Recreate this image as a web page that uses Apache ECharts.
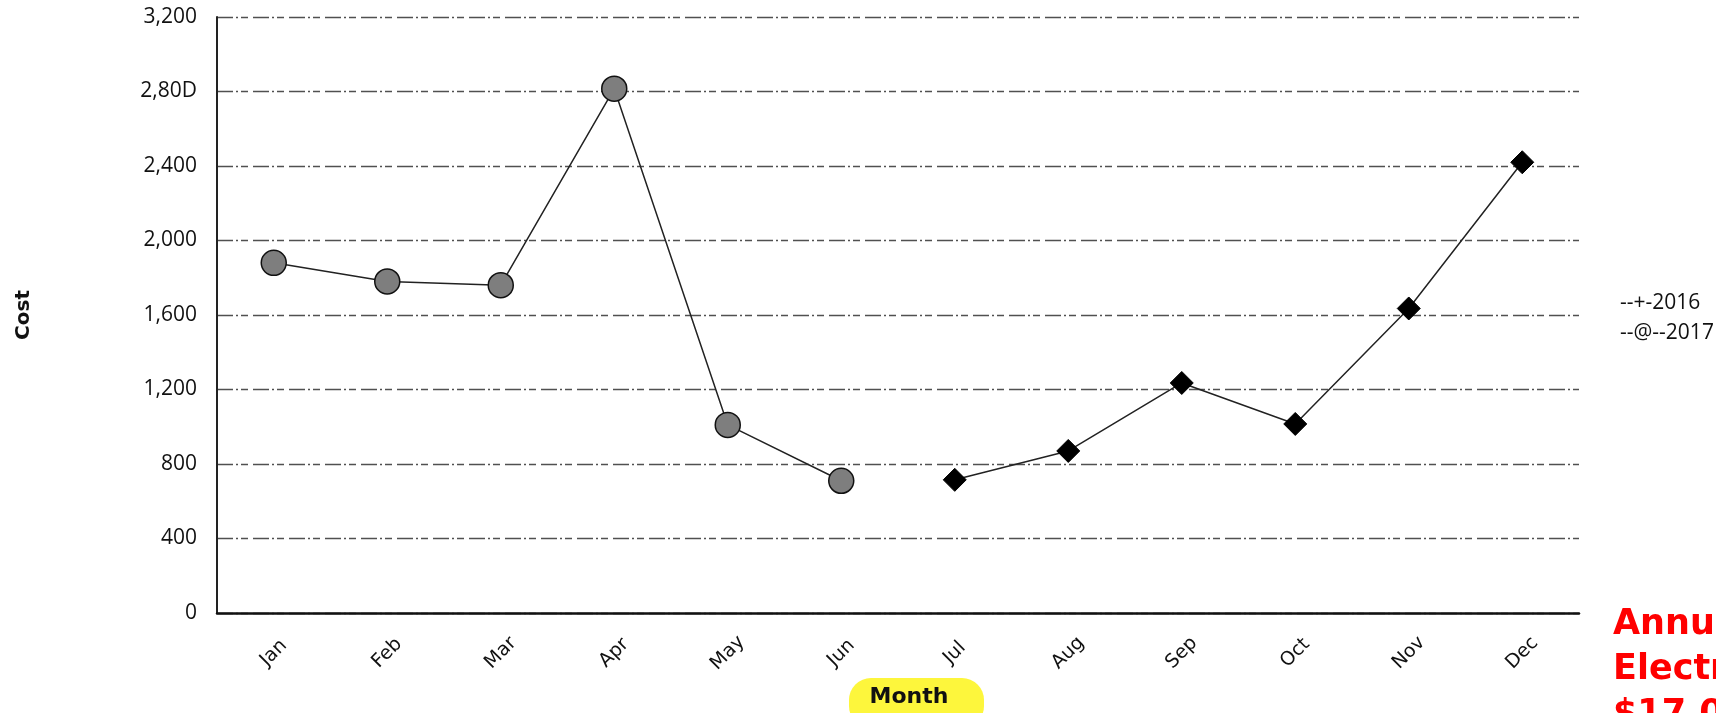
<!DOCTYPE html>
<html>
<head>
<meta charset="utf-8">
<script src="https://cdn.jsdelivr.net/npm/echarts@6/dist/echarts.min.js"></script>
<style>
  html, body { margin: 0; padding: 0; background: #fff; }
  #myChart { width: 1716px; height: 713px; }
</style>
</head>
<body>
<div id="myChart"></div>
<script>
// 月份
var months = ["Jan", "Feb", "Mar", "Apr", "May", "Jun", "Jul", "Aug", "Sep", "Oct", "Nov", "Dec"];
// 2016 only has Jul - Dec, 2017 only Jan - Jun
var cost2016 = [null, null, null, null, null, null, 715, 870, 1235, 1015, 1635, 2420];
var cost2017 = [1880, 1780, 1760, 2815, 1010, 710, null, null, null, null, null, null];
var seriesNames = ["2016", "2017"];
var legendLabels = ["--+-2016", "--@--2017"];
// y tick labels, as printed (scan shows "2,80D")
var yTickLabels = ["0", "400", "800", "1,200", "1,600", "2,000", "2,400", "2,80D", "3,200"];
var noteLines = ["Annual", "Electricity", "$17,0"];

var myChart = echarts.init(document.getElementById("myChart"));

var gridDash = {
  color: "#505050",
  width: 1.3,
  type: [16, 3, 2, 3, 7, 5]
};

myChart.setOption({
  animation: false,
  backgroundColor: "#ffffff",
  grid: {
    left: 217,
    right: 137,
    top: 17,
    bottom: 100
  },
  legend: {
    data: seriesNames,
    orient: "vertical",
    left: 1610,
    top: 286,
    icon: "none",
    itemWidth: 0,
    itemGap: 6,
    formatter: function (name) {
      return legendLabels[seriesNames.indexOf(name)];
    },
    textStyle: {
      fontFamily: "Open Sans",
      fontSize: 21,
      lineHeight: 24,
      color: "#111"
    }
  },
  xAxis: {
    type: "category",
    data: months,
    boundaryGap: true,
    axisTick: { show: false },
    axisLine: { lineStyle: { color: "#111", width: 2.5 } },
    axisLabel: {
      rotate: 45,
      margin: 40,
      align: "center",
      verticalAlign: "middle",
      color: "#111",
      fontFamily: "DejaVu Sans",
      fontSize: 19
    }
  },
  yAxis: {
    type: "value",
    min: 0,
    max: 3200,
    interval: 400,
    name: "Cost",
    nameLocation: "middle",
    nameGap: 183,
    nameRotate: 90,
    nameTextStyle: {
      fontFamily: "DejaVu Sans",
      fontWeight: "bold",
      fontSize: 20,
      color: "#111"
    },
    axisLine: { show: true, lineStyle: { color: "#222", width: 2 } },
    axisTick: { show: false },
    axisLabel: {
      margin: 20,
      color: "#111",
      fontFamily: "Open Sans",
      fontSize: 21,
      formatter: function (v) {
        return yTickLabels[Math.round(v / 400)];
      }
    },
    splitLine: { show: true, lineStyle: gridDash }
  },
  series: [
    {
      name: "2016",
      type: "line",
      data: cost2016,
      connectNulls: false,
      symbol: "diamond",
      symbolSize: 23,
      lineStyle: { color: "#222", width: 1.5 },
      itemStyle: { color: "#000", borderColor: "#000" },
      z: 3
    },
    {
      name: "2017",
      type: "line",
      data: cost2017,
      connectNulls: false,
      symbol: "circle",
      symbolSize: 25,
      lineStyle: { color: "#222", width: 1.5 },
      itemStyle: { color: "#7e7e7e", borderColor: "#111", borderWidth: 1.5 },
      z: 3
    }
  ],
  graphic: [
    {
      type: "rect",
      left: 849,
      top: 678,
      shape: { width: 135, height: 50, r: 22 },
      style: { fill: "#fdf63c" }
    },
    {
      type: "text",
      x: 909,
      y: 697,
      style: {
        text: "Month",
        fontFamily: "DejaVu Sans",
        fontWeight: "bold",
        fontSize: 22,
        fill: "#111",
        align: "center",
        verticalAlign: "middle"
      }
    },
    {
      type: "text",
      x: 1613,
      y: 602,
      style: {
        text: noteLines.join("\n"),
        fontFamily: "DejaVu Sans",
        fontWeight: "bold",
        fontSize: 35,
        lineHeight: 45,
        fill: "#ff0000",
        align: "left",
        verticalAlign: "top"
      }
    }
  ]
});
</script>
</body>
</html>
